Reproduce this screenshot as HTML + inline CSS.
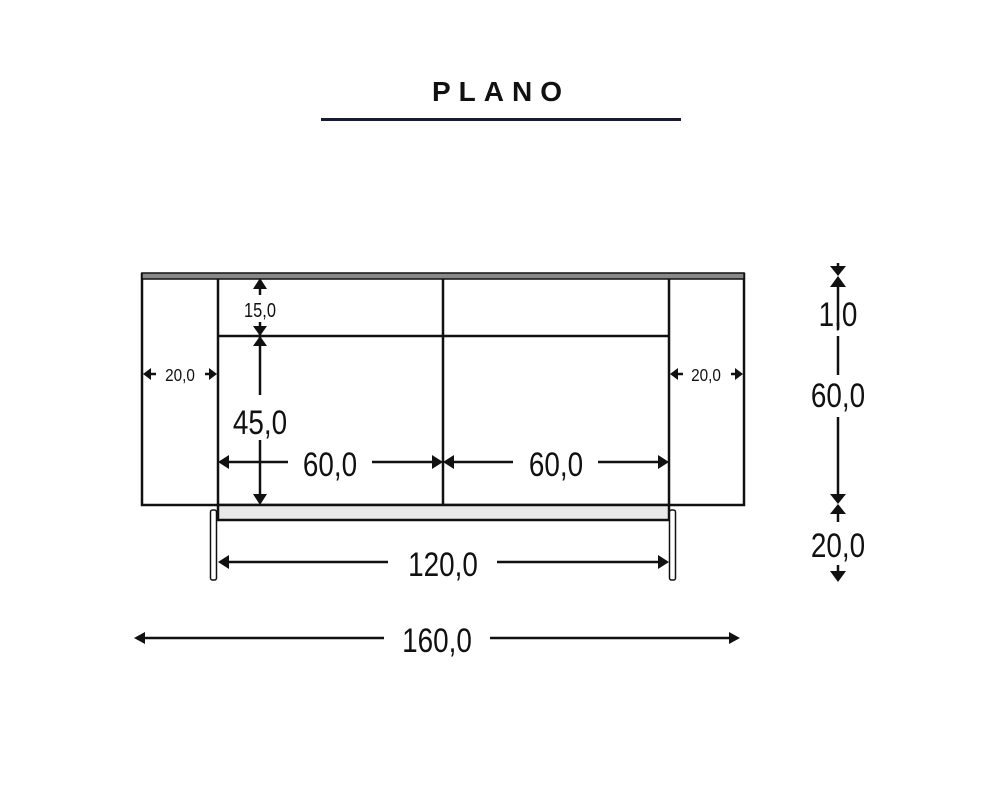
<!DOCTYPE html>
<html><head><meta charset="utf-8"><style>
html,body{margin:0;padding:0;background:#fff;width:1000px;height:800px;overflow:hidden}
svg text{font-family:"Liberation Sans",Arial,sans-serif;fill:#111}
</style></head><body>
<svg width="1000" height="800" viewBox="0 0 1000 800" xmlns="http://www.w3.org/2000/svg">
<text x="501" y="101" font-size="28" font-weight="bold" text-anchor="middle" letter-spacing="8">PLANO</text>
<rect x="321" y="118" width="360" height="3" fill="#1a1a33"/>

<g stroke="#111" stroke-width="2.5" fill="none">
<rect x="142" y="274" width="602" height="231"/>
<line x1="218" y1="279" x2="218" y2="505"/>
<line x1="443" y1="279" x2="443" y2="505"/>
<line x1="669" y1="279" x2="669" y2="505"/>
<line x1="218" y1="336" x2="669" y2="336"/>
<rect x="218" y="505" width="451" height="15" fill="#e8e8e8"/>
<rect x="210.5" y="510" width="6" height="70" rx="2" fill="#fff" stroke-width="1.5"/>
<rect x="669.5" y="510" width="6" height="70" rx="2" fill="#fff" stroke-width="1.5"/>
</g>
<rect x="142" y="273" width="602" height="6" fill="#888" stroke="#111" stroke-width="1.5"/>

<g stroke="#111" stroke-width="2.5">
<line x1="260" y1="288" x2="260" y2="295"/>
<line x1="260" y1="322" x2="260" y2="395"/>
<line x1="260" y1="440" x2="260" y2="495"/>
<line x1="226" y1="462" x2="288" y2="462"/>
<line x1="372" y1="462" x2="433" y2="462"/>
<line x1="453" y1="462" x2="513" y2="462"/>
<line x1="598" y1="462" x2="660" y2="462"/>
<line x1="150" y1="374" x2="156" y2="374"/>
<line x1="205" y1="374" x2="210" y2="374"/>
<line x1="677" y1="374" x2="683" y2="374"/>
<line x1="731" y1="374" x2="736" y2="374"/>
<line x1="228" y1="562" x2="388" y2="562"/>
<line x1="497" y1="562" x2="660" y2="562"/>
<line x1="144" y1="638" x2="384" y2="638"/>
<line x1="490" y1="638" x2="731" y2="638"/>
<line x1="838" y1="263" x2="838" y2="268"/>
<line x1="838" y1="285" x2="838" y2="330"/>
<line x1="838" y1="336" x2="838" y2="375"/>
<line x1="838" y1="417" x2="838" y2="497"/>
<line x1="838" y1="512" x2="838" y2="522"/>
<line x1="838" y1="565" x2="838" y2="573"/>
</g>

<g fill="#111">
<polygon points="260,278 253,289 267,289"/>
<polygon points="260,336 253,326 267,326"/>
<polygon points="260,336 253,346 267,346"/>
<polygon points="260,505 253,494 267,494"/>
<polygon points="218,462 229,455 229,469"/>
<polygon points="443,462 432,455 432,469"/>
<polygon points="443,462 454,455 454,469"/>
<polygon points="669,462 658,455 658,469"/>
<polygon points="143,374 151,368 151,380"/>
<polygon points="217,374 209,368 209,380"/>
<polygon points="670,374 678,368 678,380"/>
<polygon points="743,374 735,368 735,380"/>
<polygon points="218,562 229,555 229,569"/>
<polygon points="669,562 658,555 658,569"/>
<polygon points="134,638 145,632 145,644"/>
<polygon points="740,638 729,632 729,644"/>
<polygon points="838,276 830,266 846,266"/>
<polygon points="838,276 830,287 846,287"/>
<polygon points="838,504 830,494 846,494"/>
<polygon points="838,504 830,514 846,514"/>
<polygon points="838,582 830,571 846,571"/>
</g>

<g text-anchor="middle">
<text x="260" y="317" font-size="20" transform="translate(260 0) scale(0.82 1) translate(-260 0)">15,0</text>
<text x="260" y="434" font-size="34" transform="translate(260 0) scale(0.82 1) translate(-260 0)">45,0</text>
<text x="330" y="476" font-size="34" transform="translate(330 0) scale(0.82 1) translate(-330 0)">60,0</text>
<text x="556" y="476" font-size="34" transform="translate(556 0) scale(0.82 1) translate(-556 0)">60,0</text>
<text x="180" y="381" font-size="18" transform="translate(180 0) scale(0.85 1) translate(-180 0)">20,0</text>
<text x="706" y="381" font-size="18" transform="translate(706 0) scale(0.85 1) translate(-706 0)">20,0</text>
<text x="443" y="576" font-size="34" transform="translate(443 0) scale(0.82 1) translate(-443 0)">120,0</text>
<text x="437" y="652" font-size="34" transform="translate(437 0) scale(0.82 1) translate(-437 0)">160,0</text>
<text x="838" y="326" font-size="34" transform="translate(838 0) scale(0.82 1) translate(-838 0)">1,0</text>
<text x="838" y="407" font-size="34" transform="translate(838 0) scale(0.82 1) translate(-838 0)">60,0</text>
<text x="838" y="557" font-size="34" transform="translate(838 0) scale(0.82 1) translate(-838 0)">20,0</text>
</g>
</svg>
</body></html>
